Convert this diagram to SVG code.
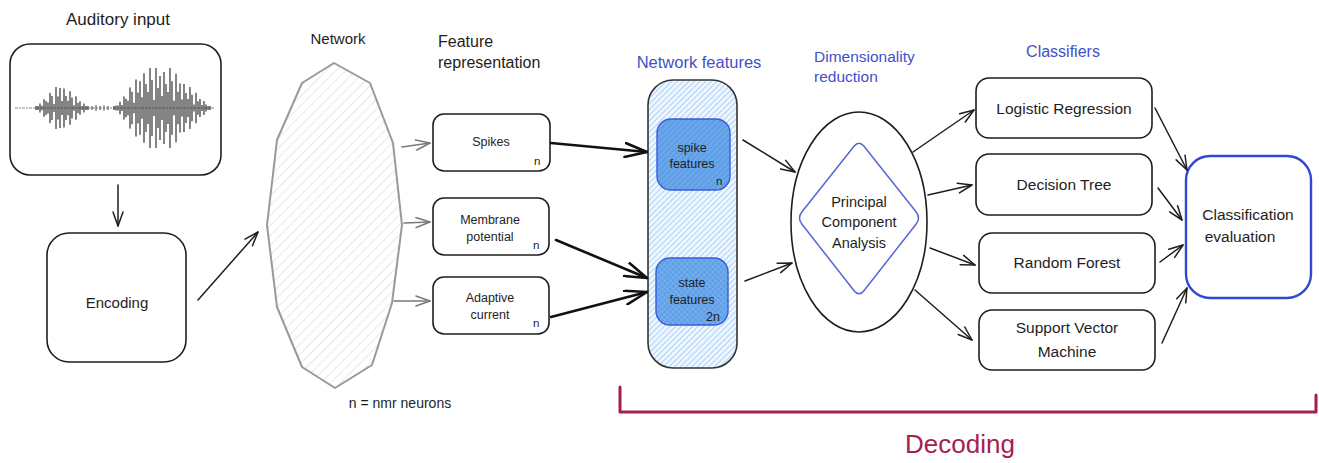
<svg xmlns="http://www.w3.org/2000/svg" width="1319" height="463" viewBox="0 0 1319 463">
<style>
text{font-family:"Liberation Sans","Noto Sans",sans-serif;fill:#1e1e1e}
.t{text-anchor:middle}
.blue{fill:#4350c8}
.box{fill:#fff;stroke:#1e1e1e;stroke-width:1.6}
.c{fill:none;stroke:#1e1e1e;stroke-width:1.5;stroke-linecap:round}
.cg{fill:none;stroke:#7a7a7a;stroke-width:1.6;stroke-linecap:round}
.ck{fill:none;stroke:#111;stroke-width:2.6;stroke-linecap:round}
</style>
<defs>
<pattern id="hg" patternUnits="userSpaceOnUse" width="7" height="7" patternTransform="rotate(45)">
<rect width="7" height="7" fill="#fff"/><line x1="0" y1="0" x2="0" y2="7" stroke="#dcdcdc" stroke-width="1.3"/>
</pattern>
<pattern id="hb" patternUnits="userSpaceOnUse" width="4" height="4" patternTransform="rotate(45)">
<rect width="4" height="4" fill="#eef6ff"/><line x1="0" y1="0" x2="0" y2="4" stroke="#8fc3f5" stroke-width="1.4"/>
</pattern>
<pattern id="hd" patternUnits="userSpaceOnUse" width="4" height="4" patternTransform="rotate(45)">
<rect width="4" height="4" fill="#5f9fe8"/><line x1="0" y1="0" x2="0" y2="4" stroke="#7fb5f0" stroke-width="1.3"/>
</pattern>
<pattern id="hx" patternUnits="userSpaceOnUse" width="4" height="4" patternTransform="rotate(45)">
<rect width="4" height="4" fill="#5f9fe8"/><line x1="0" y1="0" x2="0" y2="4" stroke="#86b9f1" stroke-width="1.1"/><line x1="0" y1="0" x2="4" y2="0" stroke="#86b9f1" stroke-width="1.1"/>
</pattern>
<marker id="ah" viewBox="0 0 16 12" refX="15" refY="6" markerWidth="16" markerHeight="12" markerUnits="userSpaceOnUse" orient="auto">
<path d="M1,1 L15,6 L1,11" fill="none" stroke="#1e1e1e" stroke-width="1.5" stroke-linecap="round" stroke-linejoin="round"/>
</marker>
<marker id="ahg" viewBox="0 0 16 12" refX="15" refY="6" markerWidth="16" markerHeight="12" markerUnits="userSpaceOnUse" orient="auto">
<path d="M1,1 L15,6 L1,11" fill="none" stroke="#7a7a7a" stroke-width="1.6" stroke-linecap="round" stroke-linejoin="round"/>
</marker>
<marker id="ahk" viewBox="0 0 24 16" refX="23" refY="8" markerWidth="24" markerHeight="16" markerUnits="userSpaceOnUse" orient="auto">
<path d="M1,1 L23,8 L1,15" fill="none" stroke="#111" stroke-width="2.6" stroke-linecap="round" stroke-linejoin="round"/>
</marker>
</defs>
<rect width="1319" height="463" fill="#fff"/>

<g id="auditory-input">
<text class="t" x="118" y="25" font-size="17">Auditory input</text>
<rect class="box" x="10" y="44" width="211" height="131" rx="20"/>
<path d="M15,108 H215" stroke="#777" stroke-width="0.9" stroke-dasharray="3 1 2 1"/>
<path d="M92,106V110M96,105V111M100,106V110M104,105.5V110.5M108,106V110" stroke="#555" stroke-width="1.1"/>
<path stroke="#2a2a2a" stroke-width="1.15" d="M36,106V110M38,106V110M40,103.4V112.6M42,105.7V110.3M44,99.3V116.7M46,101.1V114.9M48,102.6V113.4M50,93V123M52,96V120M54,104V112M56,87V129M58,96.5V119.5M60,88V128M62,101V115M64,88.5V127.5M66,96V120M68,100.7V115.3M70,91.3V124.7M72,97.5V118.5M74,105.3V110.7M76,96.3V119.7M78,103V113M80,101.3V114.7M82,106V110M84,103.5V112.5M86,106V110M88,106V110"/>
<path stroke="#2a2a2a" stroke-width="1.15" d="M114,106V110M116,105.4V110.6M118,105.4V110.6M120,101.8V114.2M122,104.9V111.1M124,96.4V119.6M126,98.7V117.3M128,100.8V115.2M130,87.4V128.6M132,91.8V124.2M134,102.8V113.2M136,79.6V136.4M138,92.5V123.5M140,81.2V134.8M142,97.2V118.8M144,73.2V142.8M146,84V132M148,92V124M150,68V148M152,80V136M154,100V116M156,68V148M158,88V128M160,76V140M162,96V120M164,72V144M166,84V132M168,92V124M170,68V148M172,81.3V134.7M174,100.8V115.2M176,73.7V142.3M178,91.8V124.2M180,83.6V132.4M182,99.4V116.6M184,84V132M186,93.1V122.9M188,98.9V117.1M190,87V129M192,94.7V121.3M194,104.6V111.4M196,92.8V123.2M198,101.3V114.7M200,98.9V117.1M202,105.1V110.9M204,101.1V114.9M206,104.6V111.4M208,106V110M210,106V110"/>
</g>

<g id="encoding">
<rect class="box" x="47" y="233" width="139" height="129" rx="22"/>
<text class="t" x="117" y="308" font-size="15">Encoding</text>
</g>

<g id="network">
<text class="t" x="338" y="44" font-size="15">Network</text>
<polygon points="334,63 370,83 393,143 402,225 392,303 372,365 335,388 302,367 277,307 267,225 277,140 302,83" fill="url(#hg)" stroke="#999" stroke-width="2" stroke-linejoin="round"/>
</g>

<g id="feature-representation">
<text x="438" y="47" font-size="16">Feature</text>
<text x="438" y="68" font-size="16">representation</text>
</g>

<g id="spikes">
<rect class="box" x="433" y="114" width="117" height="57" rx="11"/>
<text class="t" x="491" y="146" font-size="12.5">Spikes</text>
<text x="534" y="165" font-size="11.5">n</text>
</g>
<g id="membrane-potential">
<rect class="box" x="433" y="198" width="116" height="57" rx="11"/>
<text class="t" x="490" y="224" font-size="12.5">Membrane</text>
<text class="t" x="490" y="241" font-size="12.5">potential</text>
<text x="533" y="249" font-size="11.5">n</text>
</g>
<g id="adaptive-current">
<rect class="box" x="433" y="277" width="116" height="57" rx="11"/>
<text class="t" x="490" y="302" font-size="12.5">Adaptive</text>
<text class="t" x="490" y="319" font-size="12.5">current</text>
<text x="533" y="327" font-size="11.5">n</text>
</g>
<text class="t" x="400" y="408" font-size="14">n = nmr neurons</text>

<g id="network-features">
<text class="t blue" x="699" y="68" font-size="16.5">Network features</text>
<rect x="648" y="80" width="89" height="288" rx="25" fill="url(#hb)" stroke="#333" stroke-width="1.6"/>
</g>
<g id="spike-features">
<rect x="657" y="119" width="73" height="71" rx="14" fill="url(#hd)" stroke="#3b5bdb" stroke-width="1.4"/>
<text class="t" x="692" y="152" font-size="12.5">spike</text>
<text class="t" x="692" y="168" font-size="12.5">features</text>
<text x="716" y="185" font-size="11.5">n</text>
</g>
<g id="state-features">
<rect x="656" y="258" width="72" height="67" rx="14" fill="url(#hx)" stroke="#3b5bdb" stroke-width="1.4"/>
<text class="t" x="692" y="287" font-size="12.5">state</text>
<text class="t" x="692" y="304" font-size="12.5">features</text>
<text x="706" y="321" font-size="12.5">2n</text>
</g>

<g id="pca">
<text class="blue" x="814" y="62" font-size="15.5">Dimensionality</text>
<text class="blue" x="814" y="82" font-size="15.5">reduction</text>
<ellipse cx="859" cy="222" rx="68" ry="110" fill="#fff" stroke="#1e1e1e" stroke-width="1.6"/>
<path d="M864,146.3 L916,211.7 Q921,218 916,224.3 L863.9,290.7 Q859,297 854.1,290.7 L802,224.3 Q797,218 802,211.7 L854,146.3 Q859,140 864,146.3 Z" fill="none" stroke="#5566d6" stroke-width="1.5"/>
<text class="t" x="859" y="207" font-size="14.5">Principal</text>
<text class="t" x="859" y="227" font-size="14.5">Component</text>
<text class="t" x="859" y="248" font-size="14.5">Analysis</text>
</g>

<text class="t blue" x="1063" y="57" font-size="16">Classifiers</text>
<g id="logistic-regression">
<rect class="box" x="976" y="78" width="176" height="60" rx="13"/>
<text class="t" x="1064" y="114" font-size="15.5">Logistic Regression</text>
</g>
<g id="decision-tree">
<rect class="box" x="976" y="154" width="176" height="61" rx="13"/>
<text class="t" x="1064" y="190" font-size="15.5">Decision Tree</text>
</g>
<g id="random-forest">
<rect class="box" x="979" y="233" width="176" height="60" rx="13"/>
<text class="t" x="1067" y="268" font-size="15.5">Random Forest</text>
</g>
<g id="support-vector-machine">
<rect class="box" x="979" y="310" width="176" height="60" rx="13"/>
<text class="t" x="1067" y="333" font-size="15.5">Support Vector</text>
<text class="t" x="1067" y="357" font-size="15.5">Machine</text>
</g>
<g id="classification-evaluation">
<rect x="1186" y="156" width="125" height="142" rx="24" fill="#fff" stroke="#3048d0" stroke-width="2.4"/>
<text class="t" x="1248" y="220" font-size="15.5">Classification</text>
<text class="t" x="1240" y="242" font-size="15.5">evaluation</text>
</g>

<g id="connectors">
<path class="c" d="M118,185 L118,226" marker-end="url(#ah)"/>
<path class="c" d="M198,300 L258,232" marker-end="url(#ah)"/>
<path class="cg" d="M402,147 L430,143" marker-end="url(#ahg)"/>
<path class="cg" d="M404,223 L430,222" marker-end="url(#ahg)"/>
<path class="cg" d="M394,301 L430,301" marker-end="url(#ahg)"/>
<path class="ck" d="M551,143 L647,152" marker-end="url(#ahk)"/>
<path class="ck" d="M556,240 L647,278" marker-end="url(#ahk)"/>
<path class="ck" d="M551,317 L647,292" marker-end="url(#ahk)"/>
<path class="c" d="M743,140 L795,172" marker-end="url(#ah)"/>
<path class="c" d="M745,281 L792,263" marker-end="url(#ah)"/>
<path class="c" d="M913,152 L974,110" marker-end="url(#ah)"/>
<path class="c" d="M928,195 L972,185" marker-end="url(#ah)"/>
<path class="c" d="M930,248 L975,265" marker-end="url(#ah)"/>
<path class="c" d="M915,290 L972,340" marker-end="url(#ah)"/>
<path class="c" d="M1155,108 L1187,170" marker-end="url(#ah)"/>
<path class="c" d="M1158,188 L1182,220" marker-end="url(#ah)"/>
<path class="c" d="M1160,262 L1183,245" marker-end="url(#ah)"/>
<path class="c" d="M1162,343 L1187,288" marker-end="url(#ah)"/>
</g>

<g id="decoding">
<path d="M620,387 V412 H1316 V395" fill="none" stroke="#a61e4d" stroke-width="3" stroke-linejoin="round" stroke-linecap="round"/>
<text class="t" x="960" y="453" font-size="26" style="fill:#a61e4d">Decoding</text>
</g>
</svg>
